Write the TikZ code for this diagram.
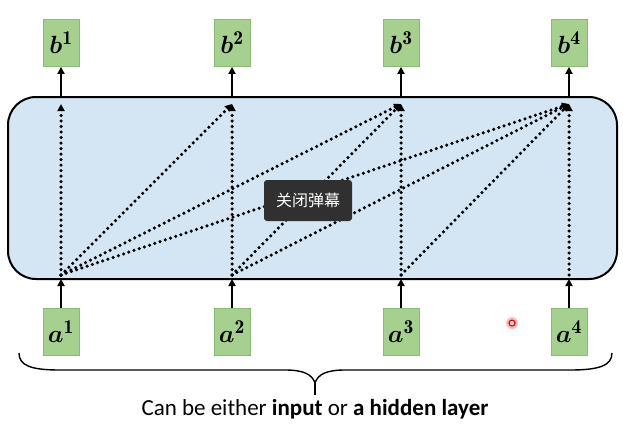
\documentclass[tikz,border=0pt]{standalone}
\usepackage{fontspec}
\usepackage{amsmath,bm}
\setsansfont{Carlito}
\newfontfamily\cjk{Noto Sans CJK SC}
\usetikzlibrary{arrows.meta}
\definecolor{boxfill}{RGB}{166,208,142}
\definecolor{boxdraw}{RGB}{140,186,118}
\definecolor{layerfill}{RGB}{212,229,244}
\definecolor{overlay}{RGB}{48,48,48}
\tikzset{
  vecbox/.style={draw=boxdraw, fill=boxfill, line width=0.8pt, minimum width=36pt, minimum height=47pt, inner sep=0pt, font=\fontsize{28}{30}\selectfont},
  solidarrow/.style={line width=2pt, -{Triangle[width=7pt,length=7pt]}},
  dotarrow/.style={line width=3.5pt, line cap=round, dash pattern=on 0pt off 5.5pt, -{Triangle[width=7pt,length=7pt,sharp]}},
}
\begin{document}
\begin{tikzpicture}[x=1pt,y=1pt]
\useasboundingbox (0,0) rectangle (623,424);
% layer
\node[draw=black, line width=2pt, fill=layerfill, rounded corners=28pt, minimum width=609pt, minimum height=182pt, inner sep=0pt] (layer) at (312.5,236) {};
% input / output boxes
\foreach \i/\x in {1/61,2/232,3/401,4/569}{
  \node[vecbox] (a\i) at (\x,92) {$\bm{a}^{\mathbf{\i}}$};
  \node[vecbox] (b\i) at (\x,381) {$\bm{b}^{\mathbf{\i}}$};
  \coordinate (in\i) at (\x,145);
  \coordinate (out\i) at (\x,327);
  \coordinate (s\i) at (\x,149);
  \coordinate (t\i) at (\x,320);
}
\foreach \i in {1,2,3,4}{
  \draw[solidarrow] (a\i.north) -- (in\i);
  \draw[solidarrow] (out\i) -- (b\i.south);
}
% attention connections
\foreach \i/\j in {1/1,1/2,1/3,1/4,2/2,2/3,2/4,3/3,3/4,4/4}{
  \draw[dotarrow] (s\i) -- (t\j);
}
% overlay button
\node[fill=overlay, rounded corners=3pt, minimum width=88pt, minimum height=41pt, inner sep=0pt, text=white, font=\cjk\fontsize{16}{18}\selectfont] (btn) at (308,223.5) {关闭弹幕};
% cursor dot
\fill[red!25] (512,101) circle (6pt);
\draw[red, line width=1.2pt, fill=red!15] (512,101) circle (3pt);
% brace
\coordinate (bl) at (19,71);
\coordinate (br) at (612,71);
\coordinate (bm) at (315,41);
\coordinate (btip) at (315,29);
\draw[line width=1.4pt] (bl) .. controls (19,58) and (32,54) .. (60,54) -- (285,54) .. controls (303,54) and (312,50) .. (bm)
  .. controls (318,50) and (327,54) .. (345,54) -- (570,54) .. controls (598,54) and (612,58) .. (br);
\draw[line width=1.4pt] (bm) -- (btip);
\node[font=\sffamily\fontsize{23}{26}\selectfont] (caption) at (315,15) {Can be either \textbf{input} or \textbf{a hidden layer}};
\end{tikzpicture}
\end{document}
